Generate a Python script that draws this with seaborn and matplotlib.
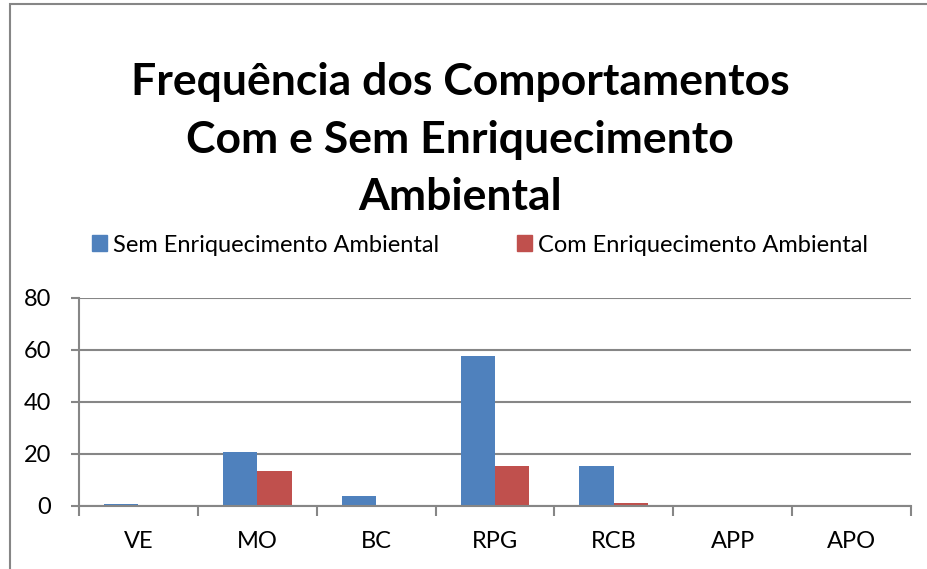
import pandas as pd
import numpy as np
import matplotlib
matplotlib.use("Agg")
import matplotlib.pyplot as plt
import seaborn as sns
from matplotlib.patches import Rectangle

# dados
comportamentos = ["VE", "MO", "BC", "RPG", "RCB", "APP", "APO"]
sem_enriq = [0.9, 20.8, 3.9, 57.7, 15.4, 0.4, 0.0]
com_enriq = [0.0, 13.4, 0.2, 15.4, 1.3, 0.0, 0.0]
series = ["Sem Enriquecimento Ambiental", "Com Enriquecimento Ambiental"]
cores = ["#4F81BD", "#C0504D"]
yticks = [0, 20, 40, 60, 80]

df = pd.DataFrame({
    "Comportamento": comportamentos * 2,
    "Serie": [series[0]] * len(comportamentos) + [series[1]] * len(comportamentos),
    "Valor": sem_enriq + com_enriq,
})

sns.set_style("white")
plt.rcParams["font.family"] = ["Lato", "DejaVu Sans"]
plt.rcParams["text.color"] = "black"
plt.rcParams["xtick.color"] = "black"
plt.rcParams["ytick.color"] = "black"

fig = plt.figure(figsize=(9.28, 5.69), dpi=100)
ax = fig.add_axes([79 / 928, 1 - 506 / 569, 832 / 928, 208 / 569])

sns.barplot(data=df, x="Comportamento", y="Valor", hue="Serie",
            palette=cores, width=0.58, gap=0, ax=ax, legend=False,
            saturation=1, edgecolor="none")

cinza = "#868686"
ax.set_ylim(0, 80)
ax.set_xlim(-0.5, len(comportamentos) - 0.5)
ax.set_yticks(yticks)
ax.yaxis.grid(True, color=cinza, linewidth=1.5)
ax.set_axisbelow(True)
for s in ["top", "right"]:
    ax.spines[s].set_visible(False)
for s in ["left", "bottom"]:
    ax.spines[s].set_color(cinza)
    ax.spines[s].set_linewidth(1.5)
ax.set_xlabel("")
ax.set_ylabel("")
ax.tick_params(axis="y", which="major", length=6, width=1.5, color=cinza,
               labelcolor="black", labelsize=17, pad=14, left=True)
ax.tick_params(axis="x", which="major", length=0, labelsize=17,
               labelcolor="black", pad=18)
ax.set_xticks(np.arange(-0.5, len(comportamentos)), minor=True)
ax.tick_params(axis="x", which="minor", length=7, width=1.5, color=cinza,
               bottom=True)

# título
titulo = ["Frequência dos Comportamentos", "Com e Sem Enriquecimento", "Ambiental"]
for i, linha in enumerate(titulo):
    fig.text(460 / 928, 1 - (82 + 57.5 * i) / 569, linha, ha="center", va="center",
             fontsize=32, fontweight="bold", color="black")

# legenda
handles = [Rectangle((0, 0), 1, 1, color=c) for c in cores]
fig.legend(handles, series, loc="center", bbox_to_anchor=(480 / 928, 1 - 245 / 569),
           ncol=2, frameon=False, fontsize=17, handlelength=0.65, handleheight=0.65,
           handletextpad=0.25, columnspacing=3.3, labelcolor="black")

# borda da área do gráfico
fig.patches.append(Rectangle((10 / 928, -0.1), 1.2, 1.1 - 4 / 569, fill=False,
                             edgecolor=cinza, linewidth=1.5,
                             transform=fig.transFigure, figure=fig))

fig.savefig("out.png", dpi=100)
